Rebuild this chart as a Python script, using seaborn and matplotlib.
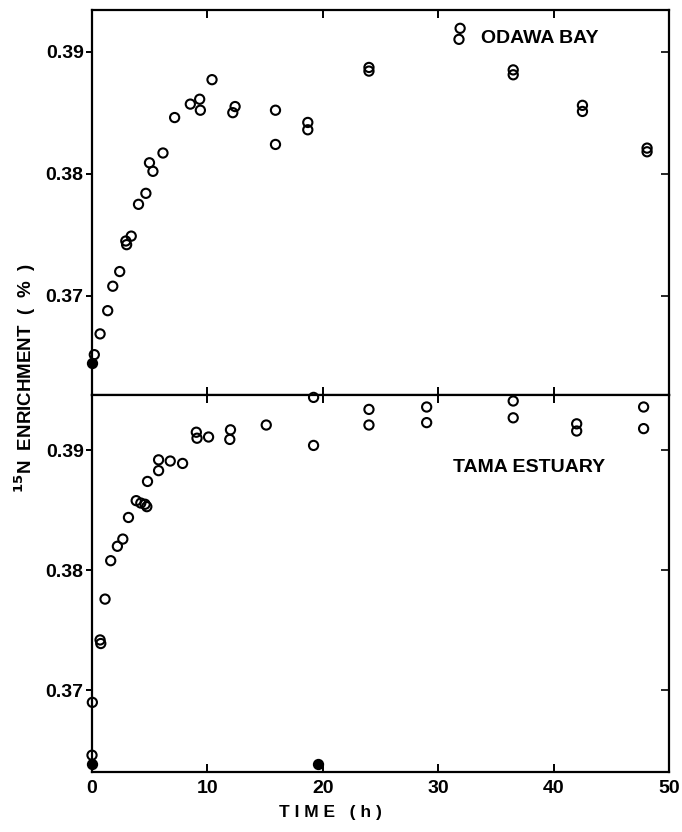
import numpy as np
import pandas as pd
import matplotlib
matplotlib.use("Agg")
import matplotlib.pyplot as plt
import seaborn as sns

# ---------------- data ----------------
odawa_time = [0.2, 0.7, 1.36, 1.8, 2.4, 2.93, 3.0, 3.4, 4.03, 4.67, 4.98, 5.28,
              6.15, 7.16, 8.52, 9.33, 9.39, 10.4, 12.2, 12.4, 15.9, 15.9,
              18.7, 18.7, 24.0, 24.0, 31.9, 31.8, 36.5, 36.5, 42.5, 42.5, 48.1, 48.1]
odawa_enrich = [0.3652, 0.3669, 0.3688, 0.3708, 0.3720, 0.3745, 0.3742, 0.3749,
                0.3775, 0.3784, 0.3809, 0.3802, 0.3817, 0.3846, 0.3857, 0.3861,
                0.3852, 0.3877, 0.3850, 0.3855, 0.3852, 0.3824, 0.3842, 0.3836,
                0.3887, 0.3884, 0.3919, 0.3910, 0.3885, 0.3881, 0.3856, 0.3851,
                0.3821, 0.3818]
odawa_filled_time = [0.0]
odawa_filled_enrich = [0.3645]

tama_time = [0.0, 0.03, 0.7, 0.76, 1.13, 1.62, 2.2, 2.67, 3.16, 3.83, 4.23, 4.6,
             4.75, 4.81, 5.77, 5.77, 6.78, 7.85, 9.04, 9.1, 10.1, 12.0, 11.94,
             15.1, 19.2, 19.2, 24.0, 24.0, 29.0, 29.0, 36.5, 36.5, 42.0, 42.0,
             47.8, 47.8]
tama_enrich = [0.3646, 0.3690, 0.3742, 0.3739, 0.3776, 0.3808, 0.3820, 0.3826,
               0.3844, 0.3858, 0.3856, 0.3855, 0.3853, 0.3874, 0.3892, 0.3883,
               0.3891, 0.3889, 0.3915, 0.3910, 0.3911, 0.3917, 0.3909, 0.3921,
               0.3944, 0.3904, 0.3934, 0.3921, 0.3936, 0.3923, 0.3941, 0.3927,
               0.3922, 0.3916, 0.3936, 0.3918]
tama_filled_time = [0.0, 19.6]
tama_filled_enrich = [0.3639, 0.3639]

x_ticks = [0, 10, 20, 30, 40, 50]
y_ticks = [0.37, 0.38, 0.39]
y_ticklabels = ["0.37", "0.38", "0.39"]
panel_labels = ["ODAWA BAY", "TAMA ESTUARY"]

odawa = pd.DataFrame({"time": odawa_time, "enrich": odawa_enrich})
odawa_f = pd.DataFrame({"time": odawa_filled_time, "enrich": odawa_filled_enrich})
tama = pd.DataFrame({"time": tama_time, "enrich": tama_enrich})
tama_f = pd.DataFrame({"time": tama_filled_time, "enrich": tama_filled_enrich})

# ---------------- style ----------------
sns.set_style("white")
plt.rcParams["font.family"] = ["Liberation Sans", "DejaVu Sans"]
plt.rcParams["font.weight"] = "bold"
plt.rcParams["text.color"] = "black"

fig = plt.figure(figsize=(6.82, 8.32), dpi=100)
left, right = 92 / 682, 669 / 682
top, mid, bottom = 1 - 10 / 832, 1 - 395 / 832, 1 - 772 / 832
ax1 = fig.add_axes([left, mid, right - left, top - mid])
ax2 = fig.add_axes([left, bottom, right - left, mid - bottom])

mk = dict(marker="o", s=44, facecolor="none", edgecolor="black", linewidth=1.5,
          legend=False, clip_on=False, zorder=3)
mkf = dict(marker="o", s=44, color="black", edgecolor="black", linewidth=1.5,
           legend=False, clip_on=False, zorder=3)

sns.scatterplot(data=odawa, x="time", y="enrich", ax=ax1, **mk)
sns.scatterplot(data=odawa_f, x="time", y="enrich", ax=ax1, **mkf)
sns.scatterplot(data=tama, x="time", y="enrich", ax=ax2, **mk)
sns.scatterplot(data=tama_f, x="time", y="enrich", ax=ax2, **mkf)

ax1.set_ylim(0.3619, 0.3934)
ax2.set_ylim(0.3632, 0.3946)

for ax in (ax1, ax2):
    ax.set_xlim(0, 50)
    ax.set_xticks(x_ticks)
    ax.set_yticks(y_ticks)
    ax.set_xlabel("")
    ax.set_ylabel("")
    for sp in ax.spines.values():
        sp.set_linewidth(1.6)
        sp.set_color("black")
        sp.set_visible(True)
    ax.tick_params(axis="x", direction="in", length=6, width=1.4,
                   top=True, bottom=True, labelsize=14, pad=6, colors="black")
    ax.tick_params(axis="y", which="both", left=True, right=False)
    ax.tick_params(axis="y", direction="out", length=4, width=1.4,
                   labelsize=14, pad=2, colors="black")
    ax.set_yticklabels(y_ticklabels, fontweight="bold")
    # inward right ticks
    sec = ax.secondary_yaxis("right")
    sec.set_yticks(y_ticks)
    sec.set_yticklabels([])
    sec.tick_params(axis="y", direction="in", length=6, width=1.4)
    sec.spines["right"].set_visible(False)

ax1.tick_params(axis="x", labelbottom=False)
ax2.set_xticklabels([str(t) for t in x_ticks], fontweight="bold")

ax1.text(38.8, 0.3911, panel_labels[0], ha="center", va="center",
         fontsize=14, fontweight="bold", color="black")
ax2.text(37.9, 0.3886, panel_labels[1], ha="center", va="center",
         fontsize=14, fontweight="bold", color="black")

fig.text(330 / 682, 1 - 812 / 832, "T I M E   ( h )", ha="center", va="center",
         fontsize=12.5, fontweight="bold", color="black")
fig.text(25 / 682, 1 - 378 / 832, r"$\mathbf{^{15}}$N  ENRICHMENT  (  %  )",
         ha="center", va="center", rotation=90, fontsize=13.5,
         fontweight="bold", color="black")

fig.savefig("out.png", dpi=100, facecolor="white")
